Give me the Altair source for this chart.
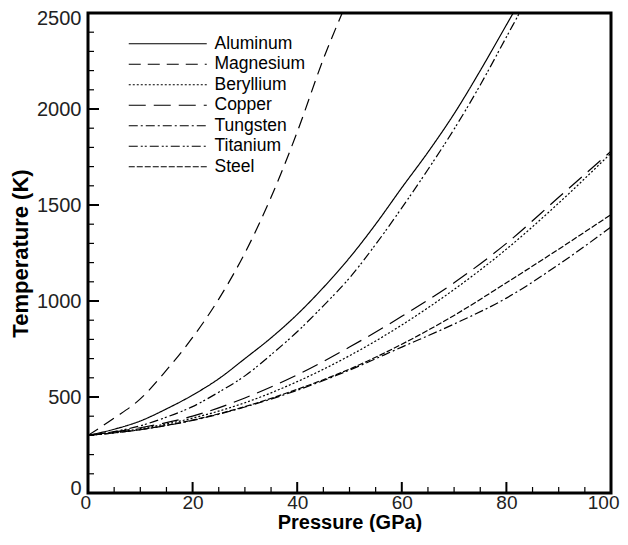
import altair as alt
import pandas as pd

# ---- data ----
materials = ["Aluminum", "Magnesium", "Beryllium", "Copper", "Tungsten", "Titanium", "Steel"]

p_al = [0, 5, 10, 15, 20, 25, 30, 35, 40, 45, 50, 55, 60, 65, 70, 75, 80, 81.3]
t_al = [300, 332, 375, 438, 510, 595, 700, 808, 930, 1070, 1225, 1400, 1590, 1775, 1975, 2200, 2438, 2500]

p_mg = [0, 5, 10, 15, 20, 25, 30, 35, 40, 45, 48.6]
t_mg = [300, 390, 490, 640, 810, 1010, 1250, 1540, 1880, 2260, 2500]

p_ti = [0, 5, 10, 15, 20, 25, 30, 35, 40, 45, 50, 55, 60, 65, 70, 75, 80, 82.5]
t_ti = [300, 320, 350, 395, 450, 525, 610, 720, 840, 975, 1120, 1295, 1485, 1685, 1895, 2125, 2375, 2500]

p_std = [0, 10, 20, 30, 40, 50, 60, 70, 80, 90, 100]
t_cu = [300, 340, 400, 495, 615, 760, 920, 1095, 1300, 1540, 1780]
t_be = [300, 335, 390, 470, 580, 715, 875, 1060, 1270, 1510, 1770]
t_w = [300, 330, 378, 448, 535, 640, 760, 880, 1015, 1190, 1385]
t_st = [300, 330, 380, 450, 540, 645, 775, 925, 1095, 1270, 1450]

x_major = [0, 20, 40, 60, 80, 100]
x_minor = [v for v in range(0, 101, 5) if v % 20 != 0]
y_major = [0, 500, 1000, 1500, 2000, 2500]
y_minor = [v for v in range(0, 2501, 100) if v % 500 != 0]

dashes = [[1, 0], [12, 7], [2, 2], [17, 8], [9, 3, 2, 3], [9, 3, 2, 2, 2, 3], [6, 2]]

rows = []
for name, ps, ts in [
    ("Aluminum", p_al, t_al),
    ("Magnesium", p_mg, t_mg),
    ("Beryllium", p_std, t_be),
    ("Copper", p_std, t_cu),
    ("Tungsten", p_std, t_w),
    ("Titanium", p_ti, t_ti),
    ("Steel", p_std, t_st),
]:
    for p, t in zip(ps, ts):
        rows.append({"material": name, "P": p, "T": t})
df = pd.DataFrame(rows)

W, H = 523, 480
FONT = "Liberation Sans"

xs = alt.Scale(domain=[0, 100], nice=False, zero=False)
ys = alt.Scale(domain=[0, 2500], nice=False, zero=False)

x_axis = alt.Axis(
    values=x_major, format="d", title="Pressure (GPa)", grid=False, ticks=False, domain=False,
    labelFlush=True, labelFlushOffset=8, labelFontSize=19, labelPadding=0,
    titleFontSize=20, titleFontWeight="bold", titlePadding=0,
    labelFont=FONT, titleFont=FONT, labelColor="#222", titleColor="black")
y_axis = alt.Axis(
    values=y_major, format="d", title="Temperature (K)", grid=False, ticks=False, domain=False,
    labelFlush=True, labelFlushOffset=5, labelFontSize=20, labelPadding=7,
    titleFontSize=22, titleFontWeight="bold", titlePadding=4,
    labelFont=FONT, titleFont=FONT, labelColor="#222", titleColor="black")

lines = alt.Chart(df).mark_line(color="black", strokeWidth=1.2, interpolate="monotone", clip=True).encode(
    x=alt.X("P:Q", scale=xs, axis=x_axis),
    y=alt.Y("T:Q", scale=ys, axis=y_axis),
    strokeDash=alt.StrokeDash("material:N", scale=alt.Scale(domain=materials, range=dashes),
        legend=alt.Legend(title=None, orient="none", legendX=71, legendY=22,
                          symbolType="M-7.8,0L7.8,0", symbolSize=100,
                          symbolStrokeColor="black", symbolStrokeWidth=1.2,
                          labelFontSize=17.5, labelFont=FONT, labelColor="black",
                          labelOffset=38, rowPadding=1.5)),
    detail="material:N",
)

xmaj = alt.Chart(pd.DataFrame({"P": x_major})).mark_rule(color="black", strokeWidth=2).encode(
    x=alt.X("P:Q", scale=xs, axis=x_axis), y=alt.value(H), y2=alt.value(H - 11))
xmin = alt.Chart(pd.DataFrame({"P": x_minor})).mark_rule(color="black", strokeWidth=1.2).encode(
    x=alt.X("P:Q", scale=xs, axis=x_axis), y=alt.value(H), y2=alt.value(H - 6))
ymaj = alt.Chart(pd.DataFrame({"T": y_major})).mark_rule(color="black", strokeWidth=2).encode(
    y=alt.Y("T:Q", scale=ys, axis=y_axis), x=alt.value(0), x2=alt.value(11))
ymin = alt.Chart(pd.DataFrame({"T": y_minor})).mark_rule(color="black", strokeWidth=1.2).encode(
    y=alt.Y("T:Q", scale=ys, axis=y_axis), x=alt.value(0), x2=alt.value(6))

chart = alt.layer(lines, xmaj, xmin, ymaj, ymin).properties(
    width=W, height=H,
    background="white",
    autosize=alt.AutoSizeParams(type="none"),
    padding={"left": 80, "top": 5, "right": 9, "bottom": 39},
).configure_view(stroke="black", strokeWidth=3)

chart.save("out.html", embed_options={"renderer": "svg", "actions": False})
